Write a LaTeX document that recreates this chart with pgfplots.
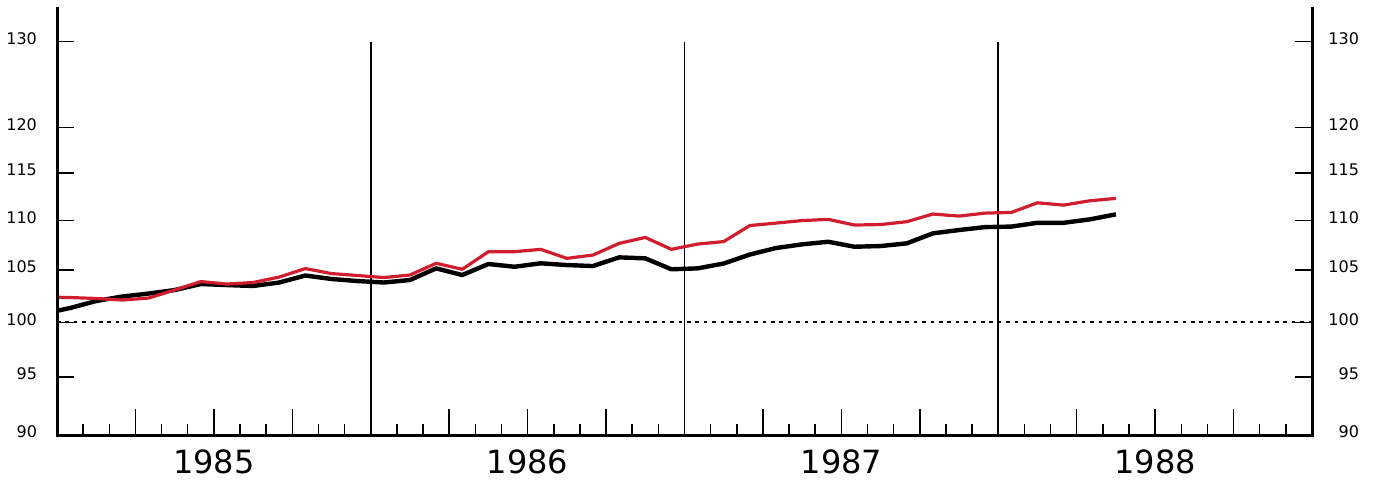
\documentclass[border=0pt]{standalone}
\usepackage{fontspec}
\setmainfont{DejaVu Sans}
\usepackage{pgfplots}
\pgfplotsset{compat=1.18}
\usepackage{pgfplotstable}

\definecolor{seriesred}{RGB}{208,30,46}

% monthly index values, x = month (mid-month), Jan 1985 = 0.5
\pgfplotstableread{
month  red     black
-0.5   102.39  100.82
0.5    102.34  101.34
1.5    102.25  102.01
2.5    102.10  102.44
3.5    102.29  102.72
4.5    103.06  103.06
5.5    103.88  103.64
6.5    103.64  103.54
7.5    103.79  103.45
8.5    104.32  103.79
9.5    105.15  104.47
10.5   104.66  104.13
11.5   104.47  103.93
12.5   104.27  103.79
13.5   104.52  104.03
14.5   105.67  105.17
15.5   105.08  104.52
16.5   106.82  105.60
17.5   106.82  105.33
18.5   107.06  105.67
19.5   106.16  105.50
20.5   106.49  105.40
21.5   107.66  106.26
22.5   108.26  106.16
23.5   107.06  105.08
24.5   107.59  105.17
25.5   107.84  105.65
26.5   109.47  106.54
27.5   109.72  107.19
28.5   109.98  107.56
29.5   110.10  107.82
30.5   109.52  107.32
31.5   109.57  107.39
32.5   109.86  107.66
33.5   110.65  108.67
34.5   110.44  109.01
35.5   110.75  109.31
36.5   110.82  109.36
37.5   111.82  109.75
38.5   111.58  109.75
39.5   112.03  110.10
40.5   112.28  110.62
}\indexdata

\pgfplotsset{
    chartaxis/.style = {
        at           = {(0,0)},
        anchor       = south west,
        scale only axis,
        width        = 627.5pt,
        height       = 214pt,
        xmin         = 0,
        xmax         = 48,
        ymin         = 90,
        ymax         = 134.3,
        axis line style = {draw=none},
        tick align   = inside,
        tick style   = {black, line width=0.75pt},
        ytick        = {90,95,100,105,110,115,120,130},
        yticklabels  = {90,95,100,105,110,115,120,130},
        yticklabel style = {font=\fontsize{8}{9}\selectfont, yshift=1.5pt}},
}

\begin{document}
\begin{tikzpicture}
    \useasboundingbox (-28.5pt,-24pt) rectangle (661pt,217.5pt);

    % y ticks, labels on the left
    \begin{axis}[
        ymode             = log,
        chartaxis,
        xtick             = \empty,
        ytick pos         = both,
        yticklabel pos    = left,
        major tick length = 8.5pt,
        yticklabel style  = {xshift=-6.5pt}]
    \end{axis}

    % labels on the right
    \begin{axis}[
        ymode             = log,
        chartaxis,
        xtick             = \empty,
        ytick pos         = right,
        yticklabel pos    = right,
        major tick length = 0pt,
        yticklabel style  = {anchor=east, xshift=27pt}]
    \end{axis}

    % month ticks and the data
    \begin{axis}[
        ymode             = log,
        chartaxis,
        clip mode         = individual,
        ytick             = \empty,
        xtick pos         = left,
        xtick             = {3,6,...,45},
        minor xtick       = {0,...,48},
        xticklabels       = {},
        major tick length = 13pt,
        minor tick length = 5.5pt]

        \draw[line width=0.9pt, dash pattern=on 1.8pt off 2.4pt]
            (axis cs:0,100) -- (axis cs:48,100);
        \draw[line width=0.8pt] (axis cs:12,90) -- (axis cs:12,130);
        \draw[line width=0.8pt] (axis cs:24,90) -- (axis cs:24,130);
        \draw[line width=0.8pt] (axis cs:36,90) -- (axis cs:36,130);

        \addplot[black, line width=2.2pt, line join=round, mark=none]
            table[x=month, y=black] {\indexdata};
        \addplot[seriesred, line width=1.6pt, line join=round, mark=none]
            table[x=month, y=red] {\indexdata};

        \node[font=\fontsize{16}{18}\selectfont, yshift=-13.5pt] at (axis cs:6,90)  {1985};
        \node[font=\fontsize{16}{18}\selectfont, yshift=-13.5pt] at (axis cs:18,90) {1986};
        \node[font=\fontsize{16}{18}\selectfont, yshift=-13.5pt] at (axis cs:30,90) {1987};
        \node[font=\fontsize{16}{18}\selectfont, yshift=-13.5pt] at (axis cs:42,90) {1988};
    \end{axis}

    \draw[line width=1.5pt, line join=miter]
        (0,214pt) -- (0,0) -- (627.5pt,0) -- (627.5pt,214pt);
\end{tikzpicture}
\end{document}
